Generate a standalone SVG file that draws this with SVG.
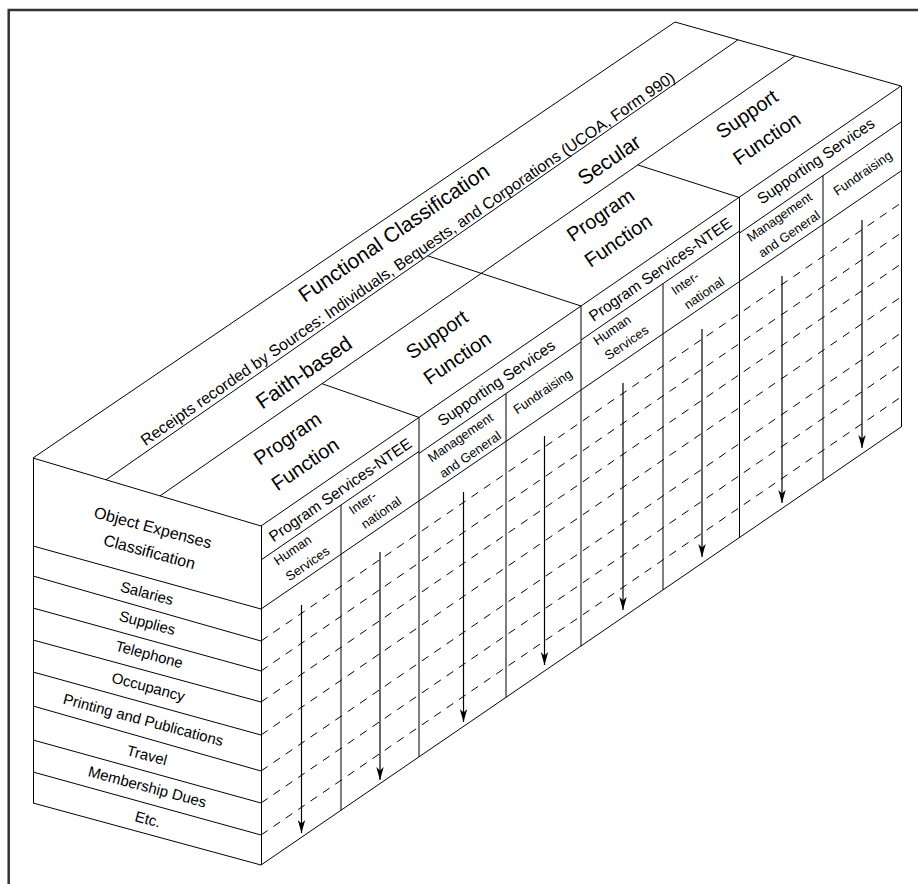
<svg xmlns="http://www.w3.org/2000/svg" width="918" height="884" viewBox="0 0 918 884">
<style>
.ln{stroke:#000;stroke-width:1;fill:none}
.ds{stroke:#000;stroke-width:1;fill:none;stroke-dasharray:8 7}
.ar{stroke:#000;stroke-width:1.2;fill:none;marker-end:url(#ah)}
text{font-family:"Liberation Sans",Arial,Helvetica,sans-serif;fill:#000;text-anchor:middle}
.t21{font-size:21px}.t20{font-size:20px}.t16{font-size:16px}.t155{font-size:15.5px}.t15{font-size:15px}.t13{font-size:13px}
</style>
<defs>
<marker id="ah" viewBox="0 0 13 8" refX="13" refY="4" markerWidth="13" markerHeight="8" markerUnits="userSpaceOnUse" orient="auto">
<path d="M0,0.3 L13,4 L0,7.7 L3.5,4 Z" fill="#000"/>
</marker>
</defs>
<rect x="0" y="0" width="918" height="884" fill="#fff"/>
<path id="frame" d="M8.7,884 V10 H918" fill="none" stroke="#333" stroke-width="2.5"/>

<g id="top-face">
<path class="ln" d="M33,458 L675,22 L901,86"/>
<path class="ln" d="M33,458 L261,526 L901,86"/>
<path class="ln" d="M106,479.8 L738,39.8"/>
<path class="ln" d="M160,495.9 L795,56"/>
<path class="ln" d="M427.7,255.8 L581,306"/>
<path class="ln" d="M322,383.7 L419,417.4"/>
<path class="ln" d="M637.7,164.9 L739,197.4"/>
<text class="t21" transform="translate(394,233) rotate(-34.6)" y="7">Functional Classification</text>
<text class="t16" transform="translate(408,259) rotate(-34.6)" y="5">Receipts recorded by Sources: Individuals, Bequests, and Corporations (UCOA, Form 990)</text>
<text class="t21" transform="translate(304,372.5) rotate(-34.6)" y="7">Faith-based</text>
<text class="t21" transform="translate(609,159.5) rotate(-34.6)" y="7.5">Secular</text>
</g>

<g id="faith-program-function">
<text class="t20" transform="translate(288.5,440) rotate(-34.6)" y="5">Program</text>
<text class="t20" transform="translate(305,464) rotate(-34.6)" y="7">Function</text>
</g>
<g id="faith-support-function">
<text class="t20" transform="translate(438,336) rotate(-34.6)" y="5">Support</text>
<text class="t20" transform="translate(457,358) rotate(-34.6)" y="7">Function</text>
</g>
<g id="secular-program-function">
<text class="t20" transform="translate(601.5,216.5) rotate(-34.6)" y="5">Program</text>
<text class="t20" transform="translate(618,240.5) rotate(-34.6)" y="7">Function</text>
</g>
<g id="secular-support-function">
<text class="t20" transform="translate(748,115.5) rotate(-34.6)" y="5">Support</text>
<text class="t20" transform="translate(766.5,138.5) rotate(-34.6)" y="7">Function</text>
</g>

<g id="left-face">
<path class="ln" d="M33.5,458 V803"/>
<path class="ln" d="M33,546 L261,609 M33,576 L261,641 M33,608 L261,671 M33,640 L261,702 M33,672 L261,735 M33,706 L261,771 M33,740 L261,803 M33,772 L261,835 M33,803 L261,865"/>
<text class="t16" transform="translate(152.5,529) rotate(15)" y="4">Object Expenses</text>
<text class="t16" transform="translate(149.5,551.5) rotate(15)" y="5.8">Classification</text>
<text class="t15" transform="translate(147,593) rotate(15)" y="5.4">Salaries</text>
<text class="t15" transform="translate(147,624) rotate(15)" y="4">Supplies</text>
<text class="t15" transform="translate(149,655.5) rotate(15)" y="4">Telephone</text>
<text class="t15" transform="translate(148,688) rotate(15)" y="4">Occupancy</text>
<text class="t15" transform="translate(143,721) rotate(15)" y="4">Printing and Publications</text>
<text class="t15" transform="translate(147,755) rotate(15)" y="5.4">Travel</text>
<text class="t15" transform="translate(147,788) rotate(15)" y="4">Membership Dues</text>
<text class="t15" transform="translate(148,819) rotate(15)" y="5.4">Etc.</text>
</g>

<g id="right-face">
<path class="ln" d="M261,865 L901,427"/>
<path class="ln" d="M261,560 L419,451.4 M419,453.4 L581,342 M581,340 L739,231.4 M739,233.4 L901,122"/>
<path class="ln" d="M261,609 L901,171"/>
<path class="ds" d="M261,641 L901,203 M261,671 L901,233 M261,702 L901,264 M261,735 L901,297 M261,771 L901,333 M261,803 L901,365 M261,835 L901,397"/>
<path class="ln" d="M261.5,526 V865 M341,505 V810.3 M419,417.4 V756.9 M506,393.6 V697.4 M581,306 V646.1 M663,283.6 V590 M739.5,197 V537.7 M823,175.6 V480.6 M901.5,86 V427"/>
</g>

<g id="faith-program-services">
<text class="t155" transform="translate(341,491) rotate(-34.6)" y="4">Program Services-NTEE</text>
<text class="t13" transform="translate(292.5,550) rotate(-34.6)" y="4.6">Human</text>
<text class="t13" transform="translate(307.5,563.5) rotate(-34.6)" y="4.6">Services</text>
<text class="t13" transform="translate(362.5,502.5) rotate(-34.6)" y="4.6">Inter-</text>
<text class="t13" transform="translate(381,512.5) rotate(-34.6)" y="4.6">national</text>
</g>
<g id="faith-supporting-services">
<text class="t155" transform="translate(497,384) rotate(-34.6)" y="4">Supporting Services</text>
<text class="t13" transform="translate(461,438.5) rotate(-34.6)" y="3.3">Management</text>
<text class="t13" transform="translate(470,454.5) rotate(-34.6)" y="4.6">and General</text>
<text class="t13" transform="translate(543.3,392.5) rotate(-34.6)" y="3.3">Fundraising</text>
</g>
<g id="secular-program-services">
<text class="t155" transform="translate(661,270.5) rotate(-34.6)" y="4">Program Services-NTEE</text>
<text class="t13" transform="translate(612,330) rotate(-34.6)" y="4.6">Human</text>
<text class="t13" transform="translate(626.5,342.5) rotate(-34.6)" y="4.6">Services</text>
<text class="t13" transform="translate(685,283) rotate(-34.6)" y="4.6">Inter-</text>
<text class="t13" transform="translate(704,293) rotate(-34.6)" y="4.6">national</text>
</g>
<g id="secular-supporting-services">
<text class="t155" transform="translate(816.5,162) rotate(-34.6)" y="4">Supporting Services</text>
<text class="t13" transform="translate(780,218) rotate(-34.6)" y="3.3">Management</text>
<text class="t13" transform="translate(789,234) rotate(-34.6)" y="4.6">and General</text>
<text class="t13" transform="translate(863.3,174) rotate(-34.6)" y="3.3">Fundraising</text>
</g>

<g id="connectors">
<path class="ar" d="M301.5,605 V833"/>
<path class="ar" d="M380,552 V780"/>
<path class="ar" d="M463.5,492 V722"/>
<path class="ar" d="M544.5,436 V665"/>
<path class="ar" d="M623,383 V610"/>
<path class="ar" d="M702,329 V557"/>
<path class="ar" d="M782,276 V503"/>
<path class="ar" d="M862,220 V448"/>
</g>
</svg>
